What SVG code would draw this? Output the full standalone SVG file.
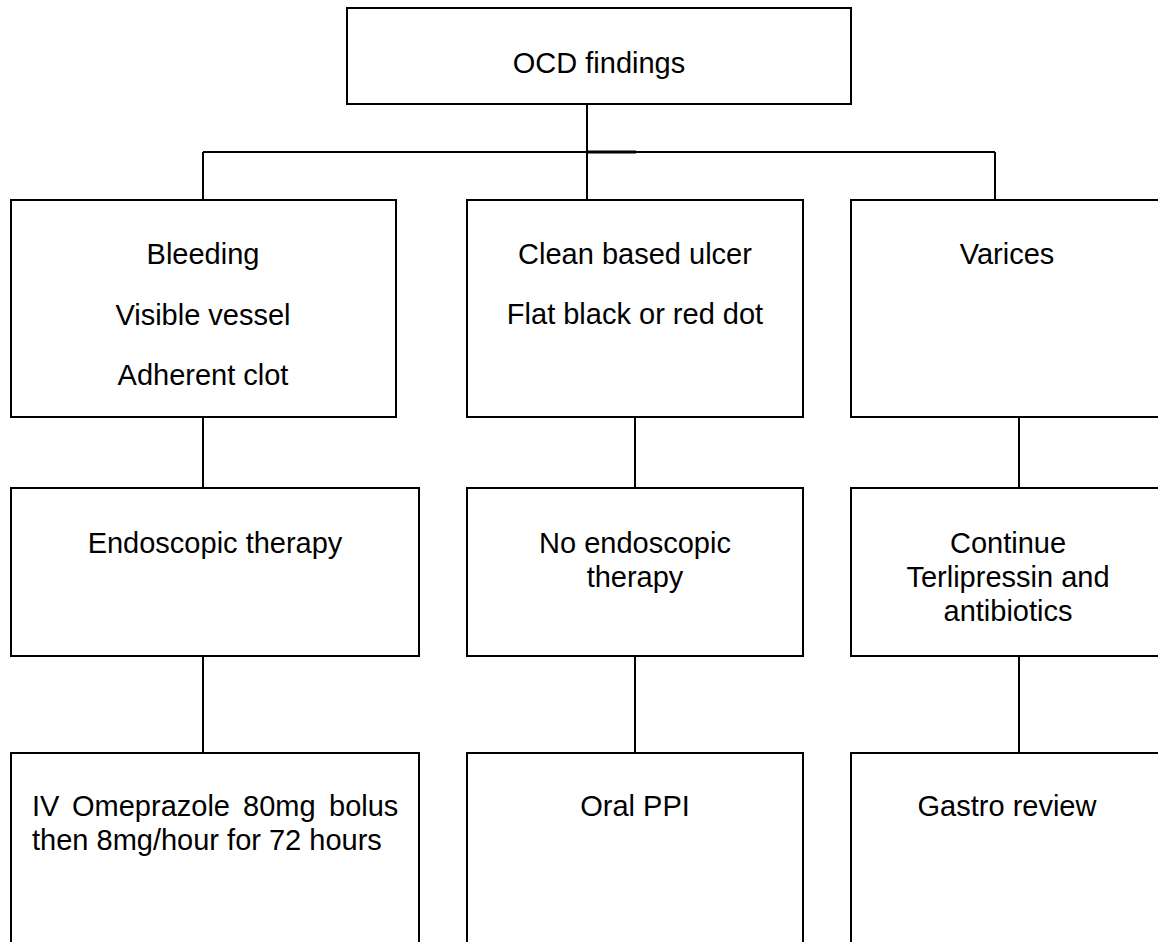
<svg xmlns="http://www.w3.org/2000/svg" width="1158" height="942" viewBox="0 0 1158 942">
<style>
.box{fill:#fff;stroke:#000;stroke-width:2}
.ln{stroke:#000;stroke-width:2;fill:none}
text{font-family:"Liberation Sans",Arial,sans-serif;font-size:29px;fill:#000}
.c{text-anchor:middle}
</style>
<rect width="1158" height="942" fill="#fff"/>
<g id="connectors">
<line class="ln" x1="587" y1="104" x2="587" y2="200"/>
<line class="ln" x1="203" y1="152" x2="995" y2="152"/>
<line x1="587" y1="152" x2="636" y2="152" stroke="#000" stroke-width="3"/>
<line class="ln" x1="203" y1="152" x2="203" y2="200"/>
<line class="ln" x1="995" y1="152" x2="995" y2="200"/>
<line class="ln" x1="203" y1="417" x2="203" y2="488"/>
<line class="ln" x1="635" y1="417" x2="635" y2="488"/>
<line class="ln" x1="1019" y1="417" x2="1019" y2="488"/>
<line class="ln" x1="203" y1="656" x2="203" y2="753"/>
<line class="ln" x1="635" y1="656" x2="635" y2="753"/>
<line class="ln" x1="1019" y1="656" x2="1019" y2="753"/>
</g>
<g id="ocd">
<rect class="box" x="347" y="8" width="504" height="96"/>
<text class="c" x="599" y="73">OCD findings</text>
</g>
<g id="bleeding">
<rect class="box" x="11" y="200" width="385" height="217"/>
<text class="c" x="203" y="264">Bleeding</text>
<text class="c" x="203" y="325">Visible vessel</text>
<text class="c" x="203" y="385">Adherent clot</text>
</g>
<g id="clean">
<rect class="box" x="467" y="200" width="336" height="217"/>
<text class="c" x="635" y="264">Clean based ulcer</text>
<text class="c" x="635" y="324">Flat black or red dot</text>
</g>
<g id="varices">
<rect class="box" x="851" y="200" width="320" height="217"/>
<text class="c" x="1007" y="264">Varices</text>
</g>
<g id="endo">
<rect class="box" x="11" y="488" width="408" height="168"/>
<text class="c" x="215" y="553">Endoscopic therapy</text>
</g>
<g id="noendo">
<rect class="box" x="467" y="488" width="336" height="168"/>
<text class="c" x="635" y="553">No endoscopic</text>
<text class="c" x="635" y="587">therapy</text>
</g>
<g id="terli">
<rect class="box" x="851" y="488" width="320" height="168"/>
<text class="c" x="1008" y="553">Continue</text>
<text class="c" x="1008" y="587">Terlipressin and</text>
<text class="c" x="1008" y="621">antibiotics</text>
</g>
<g id="omeprazole">
<rect class="box" x="11" y="753" width="408" height="200"/>
<text y="816"><tspan x="32">IV</tspan><tspan x="72">Omeprazole</tspan><tspan x="243">80mg</tspan><tspan x="329">bolus</tspan></text>
<text x="32" y="850">then 8mg/hour for 72 hours</text>
</g>
<g id="oralppi">
<rect class="box" x="467" y="753" width="336" height="200"/>
<text class="c" x="635" y="816">Oral PPI</text>
</g>
<g id="gastro">
<rect class="box" x="851" y="753" width="320" height="200"/>
<text class="c" x="1007" y="816">Gastro review</text>
</g>
</svg>
